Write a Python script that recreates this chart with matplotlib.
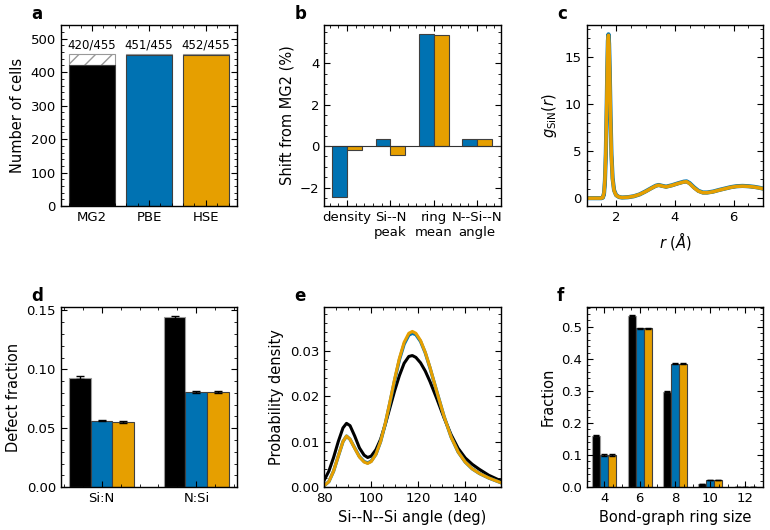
import numpy as np
import matplotlib
matplotlib.use('Agg')
import matplotlib.pyplot as plt
from matplotlib.ticker import AutoMinorLocator

# colours for the three methods
c_mg2 = 'black'
c_pbe = '#0072B2'
c_hse = '#E69F00'

# panel a: converged cells
methods = ['MG2', 'PBE', 'HSE']
n_cells = [420, 451, 452]
n_total = 455

# panel b: shift from MG2 (%)
shift_labels = ['density', 'Si--N\npeak', 'ring\nmean', 'N--Si--N\nangle']
shift_pbe = [-2.48, 0.35, 5.42, 0.34]
shift_hse = [-0.20, -0.42, 5.38, 0.34]

# panel c: g_SiN(r)
r_vals = [1.0, 1.5, 1.55, 1.59, 1.62, 1.65, 1.68, 1.7, 1.72, 1.74, 1.76, 1.78,
          1.81, 1.84, 1.88, 1.93, 2.0, 2.1, 2.2, 2.4, 2.6, 2.8, 3.0, 3.2, 3.35,
          3.45, 3.55, 3.7, 3.9, 4.1, 4.3, 4.4, 4.5, 4.65, 4.8, 4.95, 5.1, 5.3,
          5.5, 5.7, 5.9, 6.1, 6.3, 6.5, 6.7, 6.85, 7.0]
g_hse = [0.0, 0.0, 0.08, 0.6, 2.0, 5.0, 10.0, 14.0, 16.8, 17.3, 16.2, 13.5,
         8.5, 4.5, 2.0, 0.8, 0.3, 0.12, 0.07, 0.1, 0.2, 0.4, 0.7, 1.05, 1.3,
         1.38, 1.3, 1.2, 1.35, 1.55, 1.72, 1.75, 1.55, 1.1, 0.75, 0.58, 0.58,
         0.68, 0.85, 1.0, 1.15, 1.25, 1.28, 1.25, 1.18, 1.1, 1.0]
g_pbe = [0.0, 0.0, 0.07, 0.55, 1.9, 4.8, 9.8, 13.8, 16.7, 17.4, 16.4, 13.8,
         8.8, 4.7, 2.1, 0.85, 0.32, 0.12, 0.07, 0.1, 0.2, 0.4, 0.72, 1.07, 1.32,
         1.4, 1.32, 1.22, 1.37, 1.57, 1.75, 1.78, 1.6, 1.15, 0.78, 0.6, 0.6,
         0.7, 0.87, 1.02, 1.17, 1.27, 1.3, 1.27, 1.2, 1.12, 1.02]
g_mg2 = [0.0, 0.0, 0.03, 0.3, 1.4, 4.2, 9.2, 13.5, 16.5, 17.3, 16.5, 14.0,
         9.0, 5.0, 2.2, 0.9, 0.32, 0.12, 0.07, 0.1, 0.2, 0.4, 0.7, 1.05, 1.3,
         1.38, 1.3, 1.2, 1.35, 1.55, 1.72, 1.75, 1.55, 1.1, 0.75, 0.58, 0.58,
         0.68, 0.85, 1.0, 1.15, 1.25, 1.28, 1.25, 1.18, 1.1, 1.0]

# panel d: defect fractions
defect_labels = ['Si:N', 'N:Si']
defect_mg2 = [0.093, 0.144]
defect_pbe = [0.0565, 0.081]
defect_hse = [0.055, 0.081]
defect_err_mg2 = [0.0015, 0.0012]
defect_err_pbe = [0.0008, 0.0008]
defect_err_hse = [0.0008, 0.0008]

# panel e: Si-N-Si angle distribution
ang = [80, 82, 84, 86, 88, 89.5, 91, 93, 95, 97, 98.5, 100, 102, 104, 106, 108,
       110, 112, 114, 116, 117.5, 119, 121, 123, 125, 128, 131, 134, 137, 140,
       143, 146, 150, 155]
p_mg2 = [0.0015, 0.0035, 0.0065, 0.0100, 0.0130, 0.0140, 0.0135, 0.0112, 0.0086,
         0.0070, 0.0065, 0.0068, 0.0082, 0.0105, 0.0138, 0.0175, 0.0212, 0.0245,
         0.0272, 0.0287, 0.0289, 0.0285, 0.0273, 0.0255, 0.0232, 0.0193, 0.0152,
         0.0115, 0.0085, 0.0064, 0.0050, 0.0039, 0.0026, 0.0014]
p_hse = [0.0003, 0.0012, 0.0035, 0.0068, 0.0100, 0.0112, 0.0105, 0.0085, 0.0066,
         0.0055, 0.0052, 0.0056, 0.0072, 0.0100, 0.0140, 0.0188, 0.0238, 0.0283,
         0.0318, 0.0338, 0.0342, 0.0338, 0.0322, 0.0296, 0.0263, 0.0208, 0.0155,
         0.0110, 0.0077, 0.0055, 0.0040, 0.0030, 0.0020, 0.0010]
p_pbe = [0.0003, 0.0012, 0.0035, 0.0068, 0.0100, 0.0112, 0.0105, 0.0086, 0.0067,
         0.0056, 0.0053, 0.0057, 0.0072, 0.0100, 0.0139, 0.0186, 0.0235, 0.0280,
         0.0314, 0.0334, 0.0338, 0.0335, 0.0320, 0.0295, 0.0262, 0.0208, 0.0155,
         0.0110, 0.0077, 0.0055, 0.0040, 0.0030, 0.0020, 0.0010]

# panel f: ring statistics
ring_size = [4, 6, 8, 10, 12]
ring_mg2 = [0.160, 0.535, 0.298, 0.010, 0.0]
ring_pbe = [0.100, 0.495, 0.385, 0.022, 0.0]
ring_hse = [0.100, 0.495, 0.385, 0.022, 0.0]
ring_err = [0.002, 0.002, 0.002, 0.001, 0.0]

plt.rcParams['font.size'] = 9
plt.rcParams['axes.labelsize'] = 10.5
plt.rcParams['font.family'] = 'DejaVu Sans'

fig = plt.figure(figsize=(7.7, 5.3), dpi=100)
w = 0.229
h = 0.342
lefts = [0.079, 0.421, 0.762]
ax_a = fig.add_axes([lefts[0], 0.611, w, h])
ax_b = fig.add_axes([lefts[1], 0.611, w, h])
ax_c = fig.add_axes([lefts[2], 0.611, w, h])
ax_d = fig.add_axes([lefts[0], 0.081, w, 0.340])
ax_e = fig.add_axes([lefts[1], 0.081, w, 0.340])
ax_f = fig.add_axes([lefts[2], 0.081, w, 0.340])

edge = '0.25'

# a
xa = np.arange(len(methods))
ax_a.bar(xa, [n_total - v for v in n_cells], bottom=n_cells, width=0.81,
         color='white', edgecolor='0.6', hatch='//', linewidth=0.8)
ax_a.bar(xa, n_cells, width=0.81, color=[c_mg2, c_pbe, c_hse],
         edgecolor=edge, linewidth=0.8)
for x, v in zip(xa, n_cells):
    ax_a.text(x, n_total + 8, '%d/%d' % (v, n_total), ha='center', va='bottom',
              fontsize=8.5)
ax_a.set_xticks(xa)
ax_a.set_xticklabels(methods)
ax_a.set_ylim(0, 541)
ax_a.set_xlim(-0.55, 2.55)
ax_a.set_ylabel('Number of cells')

# b
xb = np.arange(len(shift_labels))
bw = 0.345
ax_b.axhline(0, color='0.2', lw=0.8)
ax_b.bar(xb - bw / 2, shift_pbe, width=bw, color=c_pbe, edgecolor=edge, lw=0.8)
ax_b.bar(xb + bw / 2, shift_hse, width=bw, color=c_hse, edgecolor=edge, lw=0.8)
ax_b.set_xticks(xb)
ax_b.set_xticklabels(shift_labels)
ax_b.set_xlim(-0.53, 3.54)
ax_b.set_ylim(-2.9, 5.85)
ax_b.set_ylabel('Shift from MG2 (%)')

# c
ax_c.plot(r_vals, g_mg2, color=c_mg2, lw=2.0)
ax_c.plot(r_vals, g_pbe, color=c_pbe, lw=3.0)
ax_c.plot(r_vals, g_hse, color=c_hse, lw=2.5)
ax_c.set_xlim(1, 7)
ax_c.set_ylim(-0.85, 18.4)
ax_c.set_xticks([2, 4, 6])
ax_c.set_xlabel(r'$r$ ($\AA$)')
ax_c.set_ylabel(r'$g_{\mathrm{SiN}}(r)$')

# d
xd = np.arange(len(defect_labels))
dw = 0.23
ax_d.bar(xd - dw, defect_mg2, width=dw, color=c_mg2, edgecolor='0.6', lw=0.8,
         yerr=defect_err_mg2, capsize=3, error_kw=dict(ecolor='black', lw=1))
ax_d.bar(xd, defect_pbe, width=dw, color=c_pbe, edgecolor=edge, lw=0.8,
         yerr=defect_err_pbe, capsize=3, error_kw=dict(ecolor='black', lw=1))
ax_d.bar(xd + dw, defect_hse, width=dw, color=c_hse, edgecolor=edge, lw=0.8,
         yerr=defect_err_hse, capsize=3, error_kw=dict(ecolor='black', lw=1))
ax_d.set_xticks(xd)
ax_d.set_xticklabels(defect_labels)
ax_d.set_xlim(-0.43, 1.43)
ax_d.set_ylim(0, 0.153)
ax_d.set_yticks([0, 0.05, 0.10, 0.15])
ax_d.set_yticklabels(['0.00', '0.05', '0.10', '0.15'])
ax_d.set_ylabel('Defect fraction')

# e
ax_e.plot(ang, p_mg2, color=c_mg2, lw=2.2)
ax_e.plot(ang, p_pbe, color=c_pbe, lw=2.4)
ax_e.plot(ang, p_hse, color=c_hse, lw=2.2)
ax_e.set_xlim(80, 155)
ax_e.set_ylim(0, 0.0396)
ax_e.set_xticks([80, 100, 120, 140])
ax_e.set_yticks([0, 0.01, 0.02, 0.03])
ax_e.set_yticklabels(['0.00', '0.01', '0.02', '0.03'])
ax_e.set_xlabel('Si--N--Si angle (deg)')
ax_e.set_ylabel('Probability density')

# f
xf = np.array(ring_size)
fw = 0.45
ekw = dict(ecolor='black', lw=1)
ax_f.bar(xf - fw, ring_mg2, width=fw, color=c_mg2, edgecolor='0.6', lw=0.8,
         yerr=ring_err, capsize=2.5, error_kw=ekw)
ax_f.bar(xf, ring_pbe, width=fw, color=c_pbe, edgecolor=edge, lw=0.8,
         yerr=ring_err, capsize=2.5, error_kw=ekw)
ax_f.bar(xf + fw, ring_hse, width=fw, color=c_hse, edgecolor=edge, lw=0.8,
         yerr=ring_err, capsize=2.5, error_kw=ekw)
ax_f.set_xticks(ring_size)
ax_f.set_xlim(3, 13)
ax_f.set_ylim(0, 0.5625)
ax_f.set_xlabel('Bond-graph ring size')
ax_f.set_ylabel('Fraction')

for ax, lab in zip([ax_a, ax_b, ax_c, ax_d, ax_e, ax_f], 'abcdef'):
    ax.xaxis.set_minor_locator(AutoMinorLocator())
    ax.yaxis.set_minor_locator(AutoMinorLocator())
    ax.tick_params(which='both', direction='in', top=True, right=True,
                   labelsize=9.5)
    ax.tick_params(which='major', length=4)
    ax.tick_params(which='minor', length=2)
    for s in ax.spines.values():
        s.set_linewidth(1.0)
    ax.text(-0.17, 1.03, lab, transform=ax.transAxes, fontsize=12,
            fontweight='bold', va='baseline', ha='left')

fig.savefig('out.png', dpi=100)
